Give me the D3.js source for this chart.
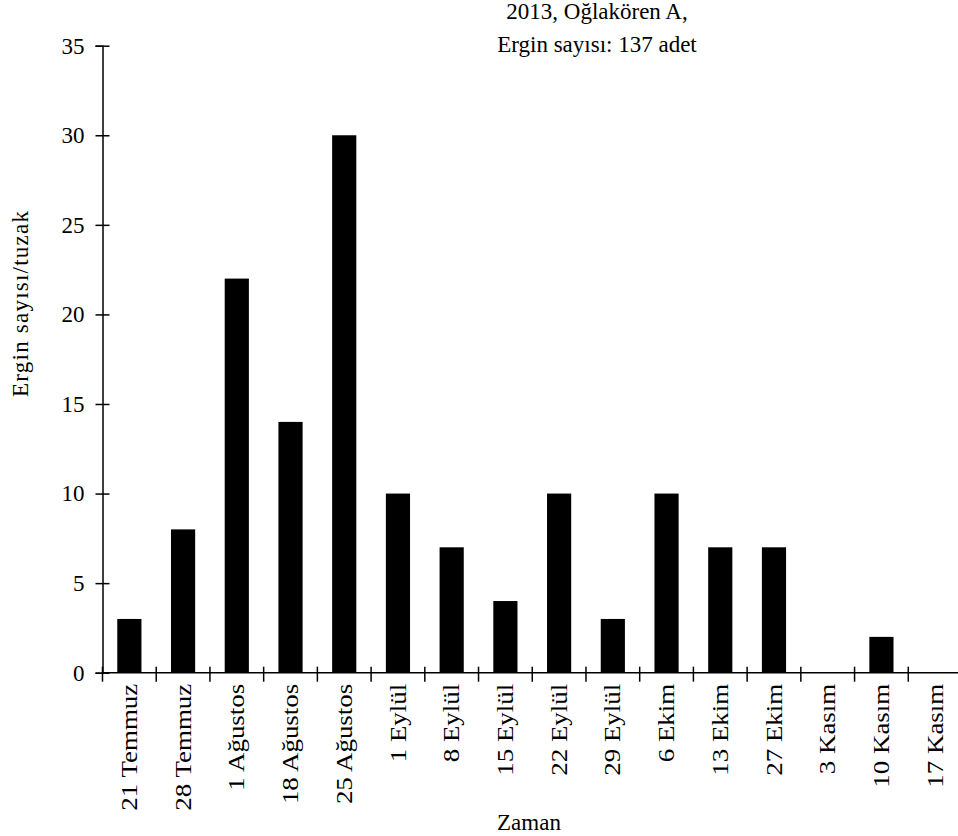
<!DOCTYPE html>
<html>
<head>
<meta charset="utf-8">
<script src="https://cdn.jsdelivr.net/npm/d3@7/dist/d3.min.js"></script>
<style>
  html, body { margin: 0; padding: 0; background: #fff; }
  svg { display: block; }
  svg text { font-family: "Liberation Serif", "Times New Roman", Tinos, Times, "DejaVu Serif", serif; fill: #000; }
</style>
</head>
<body>
<svg id="chart" width="958" height="836"></svg>
<script>
// Weekly adult catches per trap, 2013, Oğlakören A
const dates = ["21 Temmuz", "28 Temmuz", "1 Ağustos", "18 Ağustos", "25 Ağustos",
  "1 Eylül", "8 Eylül", "15 Eylül", "22 Eylül", "29 Eylül",
  "6 Ekim", "13 Ekim", "27 Ekim", "3 Kasım", "10 Kasım", "17 Kasım"];
const counts = [3, 8, 22, 14, 30, 10, 7, 4, 10, 3, 10, 7, 7, 0, 2, 0];
const yTicks = [0, 5, 10, 15, 20, 25, 30, 35];
const titleLines = ["2013, Oğlakören A,", "Ergin sayısı: 137 adet"];

const svg = d3.select("#chart");
const plotLeft = 102.5, plotRight = 962, plotTop = 45.7, plotBottom = 672.7;

const x = d3.scaleBand().domain(dates).range([plotLeft, plotRight]).padding(0);
const y = d3.scaleLinear().domain([0, 35]).range([plotBottom, plotTop]);

const barW = x.bandwidth() * 0.45;

// bars
svg.append("g").selectAll("rect")
  .data(dates.map((d, i) => ({ d, v: counts[i] })))
  .join("rect")
  .attr("x", p => x(p.d) + (x.bandwidth() - barW) / 2)
  .attr("y", p => y(p.v))
  .attr("width", barW)
  .attr("height", p => y(0) - y(p.v))
  .attr("fill", "#000");

// y axis
const yAxis = svg.append("g")
  .attr("transform", `translate(${plotLeft},0)`)
  .call(d3.axisLeft(y).tickValues(yTicks).tickSizeOuter(0).tickSize(7).tickPadding(11))
  .attr("font-family", null);
yAxis.select(".domain").attr("stroke-width", 1.5);
yAxis.selectAll(".tick line").attr("x1", -7).attr("x2", 7).attr("stroke-width", 1.5);
yAxis.selectAll(".tick text").attr("font-size", 23);

// x axis line
svg.append("line")
  .attr("x1", plotLeft).attr("x2", 958)
  .attr("y1", plotBottom).attr("y2", plotBottom)
  .attr("stroke", "#000").attr("stroke-width", 1.5);

// x ticks on category boundaries
svg.append("g").selectAll("line")
  .data(dates)
  .join("line")
  .attr("x1", d => x(d)).attr("x2", d => x(d))
  .attr("y1", plotBottom - 6).attr("y2", plotBottom + 9)
  .attr("stroke", "#000").attr("stroke-width", 1.5);

// rotated category labels, slightly stretched along their length
const xAxis = svg.append("g")
  .attr("transform", `translate(0,${plotBottom})`)
  .call(d3.axisBottom(x).tickSize(0).tickPadding(0))
  .attr("font-family", null);
xAxis.select(".domain").remove();
xAxis.selectAll(".tick text")
  .attr("font-size", 23)
  .attr("transform", "rotate(-90) scale(1.17,1)")
  .attr("text-anchor", "end")
  .attr("x", -9.5).attr("y", 0).attr("dy", "0.33em");

// axis titles
svg.append("text")
  .attr("transform", "translate(28,304) rotate(-90)")
  .attr("text-anchor", "middle")
  .attr("font-size", 23)
  .attr("textLength", 186)
  .text("Ergin sayısı/tuzak");

svg.append("text")
  .attr("x", 529).attr("y", 830)
  .attr("text-anchor", "middle")
  .attr("font-size", 23)
  .text("Zaman");

// chart title
svg.append("g").selectAll("text")
  .data(titleLines)
  .join("text")
  .attr("x", 597)
  .attr("y", (d, i) => 19 + i * 33)
  .attr("text-anchor", "middle")
  .attr("font-size", 23)
  .text(d => d);
</script>
</body>
</html>
